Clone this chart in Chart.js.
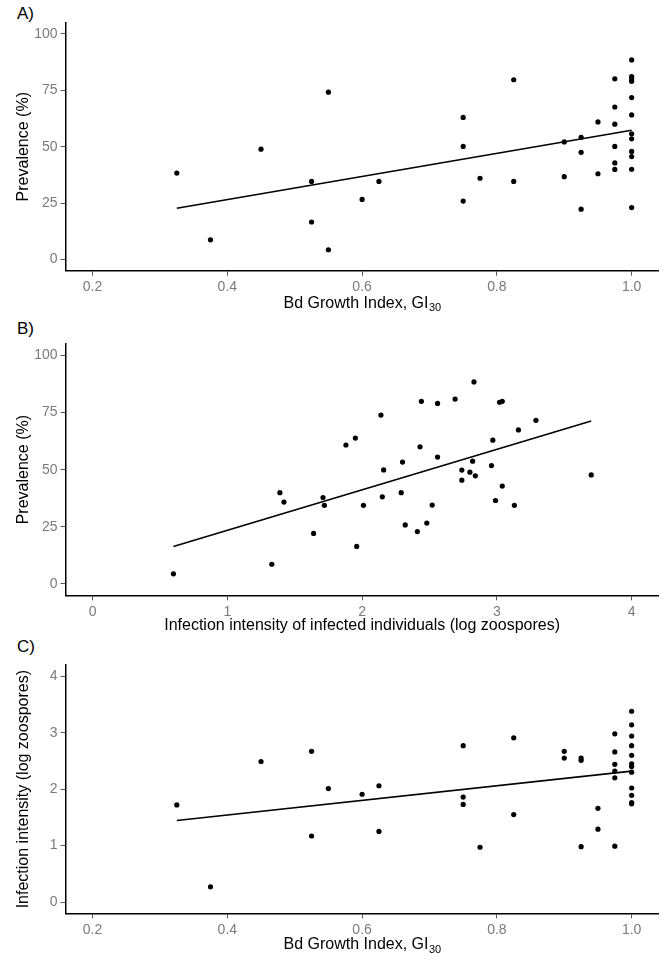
<!DOCTYPE html>
<html>
<head>
<meta charset="utf-8">
<script src="https://cdn.jsdelivr.net/npm/chart.js@4.4.1/dist/chart.umd.min.js"></script>
<style>
  html, body { margin: 0; padding: 0; background: #fff; }
  body { width: 664px; height: 970px; position: relative; overflow: hidden; }
  canvas { position: absolute; left: 0; }
  .lbl { position: absolute; left: 17px; font-family: "Liberation Sans", Arial, sans-serif; font-size: 17px; color: #000; line-height: 1; }
</style>
</head>
<body>
<div class="lbl" style="top:5px">A)</div>
<div class="lbl" style="top:320px">B)</div>
<div class="lbl" style="top:638px">C)</div>
<canvas id="cA" width="664" height="318" style="top:0px"></canvas>
<canvas id="cB" width="664" height="318" style="top:318px"></canvas>
<canvas id="cC" width="664" height="334" style="top:636px"></canvas>
<script>
// ---------- Data ----------
// Panel A: Bd growth index vs prevalence
const giA = [0.325,0.375,0.45,0.525,0.525,0.55,0.55,0.6,0.625,0.75,0.75,0.75,0.775,0.825,0.825,0.9,0.9,0.925,0.925,0.925,0.95,0.95,
  0.975,0.975,0.975,0.975,0.975,0.975,
  1.0,1.0,1.0,1.0,1.0,1.0,1.0,1.0,1.0,1.0,1.0,1.0];
const prevA = [38.3,8.7,48.9,34.6,16.6,74.2,4.3,26.6,34.6,63.0,50.1,25.9,36.0,79.7,34.6,52.1,36.7,54.2,47.5,22.3,61.0,38.0,
  80.1,67.6,60.0,50.1,42.8,39.9,
  88.5,81.1,80.1,79.0,71.8,64.1,55.7,53.5,47.9,45.6,40.0,23.0];
const fitAx = [0.325, 1.0];
const fitAy = [22.7, 57.3];

// Panel B: infection intensity vs prevalence
const intB = [0.60,1.33,1.39,1.42,1.64,1.71,1.72,1.88,1.95,1.96,2.01,2.14,2.15,2.16,2.30,2.29,2.32,2.41,2.43,2.44,2.48,2.52,2.56,2.56,
  2.69,2.74,2.74,2.80,2.82,2.83,2.84,2.96,2.97,2.99,3.02,3.04,3.04,3.13,3.16,3.29,3.70];
const prevB = [4.4,8.6,39.9,35.8,22.1,37.8,34.4,60.8,63.8,16.4,34.4,73.9,38.1,49.9,53.3,39.9,25.8,22.9,60.0,79.9,26.6,34.5,55.5,79.0,
  80.9,49.8,45.4,48.9,53.7,88.4,47.3,51.8,62.9,36.5,79.5,79.9,42.8,34.4,67.4,71.6,47.7];
const fitBx = [0.60, 3.70];
const fitBy = [16.4, 71.3];

// Panel C: Bd growth index vs infection intensity
const giC = [0.325,0.375,0.45,0.525,0.525,0.55,0.6,0.625,0.625,0.75,0.75,0.75,0.775,0.825,0.825,0.9,0.9,0.925,0.925,0.925,0.95,0.95,
  0.975,0.975,0.975,0.975,0.975,0.975,
  1.0,1.0,1.0,1.0,1.0,1.0,1.0,1.0,1.0,1.0,1.0,1.0];
const intC = [1.72,0.27,2.49,2.67,1.17,2.01,1.91,2.06,1.25,2.77,1.86,1.73,0.97,2.91,1.55,2.67,2.55,2.55,2.51,0.98,1.66,1.29,
  2.98,2.66,2.44,2.32,2.20,0.99,
  3.38,3.14,2.94,2.77,2.60,2.45,2.40,2.30,2.02,1.89,1.76,1.74];
const fitCx = [0.325, 1.0];
const fitCy = [1.445, 2.32];

// Tick labels
const giTicks = [0.2, 0.4, 0.6, 0.8, 1.0];
const intTicks = [0, 1, 2, 3, 4];
const prevTicks = [0, 25, 50, 75, 100];

// ---------- Chart building ----------
const FONT = '"Liberation Sans", Arial, sans-serif';
const pts = (xs, ys) => xs.map((x, i) => ({x: x, y: ys[i]}));

const subTitlePlugin = {
  id: 'subTitle',
  afterDraw(chart, args, opts) {
    if (!opts || !opts.main) return;
    const ctx = chart.ctx;
    const xs = chart.scales.x;
    const cx = (xs.left + xs.right) / 2;
    const y = chart.chartArea.bottom + opts.offset;
    ctx.save();
    ctx.fillStyle = '#000';
    ctx.textBaseline = 'middle';
    ctx.textAlign = 'left';
    ctx.font = '16px ' + FONT;
    const w1 = ctx.measureText(opts.main).width;
    ctx.font = '11px ' + FONT;
    const w2 = ctx.measureText(opts.sub).width;
    const start = cx - (w1 + w2) / 2;
    ctx.font = '16px ' + FONT;
    ctx.fillText(opts.main, start, y);
    ctx.font = '11px ' + FONT;
    ctx.fillText(opts.sub, start + w1 + 0.5, y + 5);
    ctx.restore();
  }
};

function buildPanel(p) {
  const canvasH = document.getElementById(p.id).height;
  return new Chart(document.getElementById(p.id), {
    type: 'scatter',
    data: {
      datasets: [
        { data: pts(p.xs, p.ys), backgroundColor: '#000', borderColor: '#000', pointRadius: 2.6, pointHoverRadius: 2.6, borderWidth: 0 },
        { type: 'line', data: pts(p.fx, p.fy), borderColor: '#000', borderWidth: 1.6, pointRadius: 0, fill: false, tension: 0 }
      ]
    },
    options: {
      responsive: false,
      animation: false,
      events: [],
      layout: { padding: { left: 0, right: 5.4, top: p.plotTop, bottom: 0 } },
      plugins: {
        legend: { display: false },
        tooltip: { enabled: false },
        subTitle: p.sub ? { main: p.xTitle, sub: p.sub, offset: p.titleOffset } : {}
      },
      scales: {
        x: {
          type: 'linear', min: p.xMin, max: p.xMax,
          afterBuildTicks: s => { s.ticks = p.xTicks.map(v => ({value: v})); },
          afterFit: s => { s.height = canvasH - p.plotBottom; },
          ticks: { color: '#7a7a7a', font: { family: FONT, size: 14 }, padding: 3, maxRotation: 0, callback: p.xFmt },
          grid: { drawOnChartArea: false, drawTicks: true, tickLength: 5, tickColor: '#555', tickWidth: 1 },
          border: { display: true, color: '#000', width: 1.5 },
          title: p.sub ? { display: false } : { display: true, text: p.xTitle, color: '#000', font: { family: FONT, size: 16, lineHeight: 1 }, padding: { top: 0, bottom: p.titlePadB } }
        },
        y: {
          type: 'linear', min: p.yMin, max: p.yMax,
          afterBuildTicks: s => { s.ticks = p.yTicks.map(v => ({value: v})); },
          afterFit: s => { s.width = 65.6; },
          ticks: { color: '#7a7a7a', font: { family: FONT, size: 14 }, padding: 3, callback: v => String(v) },
          grid: { drawOnChartArea: false, drawTicks: true, tickLength: 5, tickColor: '#555', tickWidth: 1 },
          border: { display: true, color: '#000', width: 1.5 },
          title: { display: true, text: p.yTitle, color: '#000', font: { family: FONT, size: 16, lineHeight: 1 }, padding: { top: 16, bottom: 0 } }
        }
      }
    },
    plugins: [subTitlePlugin]
  });
}

buildPanel({ id: 'cA', plotTop: 22.7, plotBottom: 270.7, xMin: 0.16, xMax: 1.04, yMin: -5, yMax: 105,
  xTicks: giTicks, yTicks: prevTicks, xFmt: v => v.toFixed(1), xs: giA, ys: prevA, fx: fitAx, fy: fitAy,
  xTitle: 'Bd Growth Index, GI', sub: '30', titleOffset: 32.6, yTitle: 'Prevalence (%)' });

buildPanel({ id: 'cB', plotTop: 26, plotBottom: 277.3, xMin: -0.2, xMax: 4.2, yMin: -5, yMax: 105,
  xTicks: intTicks, yTicks: prevTicks, xFmt: v => String(v), xs: intB, ys: prevB, fx: fitBx, fy: fitBy,
  xTitle: 'Infection intensity of infected individuals (log zoospores)', sub: null, titlePadB: 2.5, yTitle: 'Prevalence (%)' });

buildPanel({ id: 'cC', plotTop: 29, plotBottom: 277.3, xMin: 0.16, xMax: 1.04, yMin: -0.2, yMax: 4.2,
  xTicks: giTicks, yTicks: intTicks, xFmt: v => v.toFixed(1), xs: giC, ys: intC, fx: fitCx, fy: fitCy,
  xTitle: 'Bd Growth Index, GI', sub: '30', titleOffset: 31.2, yTitle: 'Infection intensity (log zoospores)' });
</script>
</body>
</html>
